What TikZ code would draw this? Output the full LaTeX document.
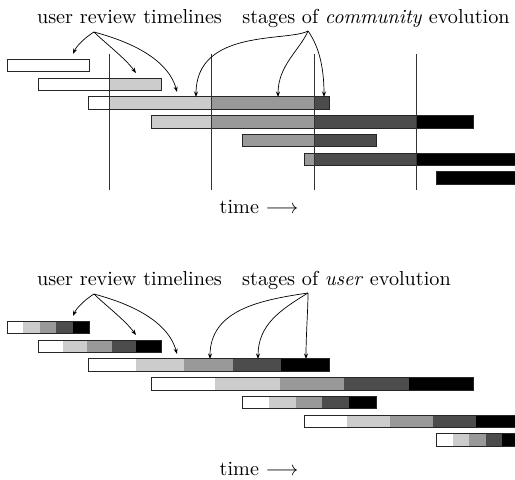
\documentclass[tikz,border=0pt]{standalone}
\usetikzlibrary{arrows.meta}
% stage shades, from first to last stage
\definecolor{stA}{gray}{1}
\definecolor{stB}{gray}{0.8}
\definecolor{stC}{gray}{0.6}
\definecolor{stD}{gray}{0.3}
\definecolor{stE}{gray}{0}
\begin{document}
\begin{tikzpicture}[x=1pt,y=-1pt,
  lbl/.style={scale=2.02, inner sep=0pt, anchor=base},
  ptr/.style={-{Stealth[length=5.5pt,width=4pt]}, line width=0.7pt},
  barline/.style={draw=black!85, line width=0.8pt},
  cut/.style={draw=black!80, line width=0.7pt}]
\useasboundingbox (0,0) rectangle (515,480);

% ---------- community evolution: stages fixed in time ----------
\foreach \a/\b/\r in {7/89/0, 38/161/1, 88/329/2, 151/473/3, 242/376/4, 304/519/5, 436/519/6} {
  \pgfmathsetmacro\yc{65.5+18.75*\r}
  \begin{scope}
    \clip (\a,\yc-6.25) rectangle (\b,\yc+6.25);
    \fill[stA] (0,\yc-7) rectangle (109,\yc+7);
    \fill[stB] (109,\yc-7) rectangle (211,\yc+7);
    \fill[stC] (211,\yc-7) rectangle (314,\yc+7);
    \fill[stD] (314,\yc-7) rectangle (416,\yc+7);
    \fill[stE] (416,\yc-7) rectangle (530,\yc+7);
  \end{scope}
  \draw[barline] (\a,\yc-6.25) rectangle (\b,\yc+6.25);
}
\foreach \x in {109,211,314,416}
  \draw[cut] (\x,54) -- (\x,190);

\node[lbl] (urtA) at (129.5,23) {user review timelines};
\node[lbl] (stgA) at (376,23) {stages of \emph{community} evolution};
\node[lbl] (timeA) at (259,213) {time $\longrightarrow$};

\coordinate (uA) at (94,32);
\coordinate (uA1) at (73,54);
\coordinate (uA2) at (136,73);
\coordinate (uA3) at (177,92);
\draw[ptr] (uA) .. controls (86,37) and (77,45) .. (uA1);
\draw[ptr] (uA) .. controls (104,42) and (125,58) .. (uA2);
\draw[ptr] (uA) .. controls (112,37) and (166,52) .. (uA3);

\coordinate (sA) at (308,31);
\coordinate (sA1) at (196,97);
\coordinate (sA2) at (278,97);
\coordinate (sA3) at (324,97);
\draw[ptr] (sA) .. controls (288,42) and (196,28) .. (sA1);
\draw[ptr] (sA) .. controls (300,50) and (278,65) .. (sA2);
\draw[ptr] (sA) .. controls (318,45) and (324,65) .. (sA3);

% ---------- user evolution: stages relative to each user ----------
\foreach \a/\b/\r in {7/89/0, 38/161/1, 88/329/2, 151/473/3, 242/376/4, 304/519/5, 436/519/6} {
  \pgfmathsetmacro\yc{327.5+18.75*\r}
  \pgfmathsetmacro\w{(\b-\a)/5}
  \foreach \k/\c in {0/stA,1/stB,2/stC,3/stD,4/stE}
    \fill[\c] (\a+\k*\w,\yc-6.25) rectangle (\a+\k*\w+\w,\yc+6.25);
  \draw[barline] (\a,\yc-6.25) rectangle (\b,\yc+6.25);
}

\node[lbl] (urtB) at (129.5,285) {user review timelines};
\node[lbl] (stgB) at (346.5,285) {stages of \emph{user} evolution};
\node[lbl] (timeB) at (259,475) {time $\longrightarrow$};

\coordinate (uB) at (94,294);
\coordinate (uB1) at (73,316);
\coordinate (uB2) at (136,335);
\coordinate (uB3) at (177,354);
\draw[ptr] (uB) .. controls (86,299) and (77,307) .. (uB1);
\draw[ptr] (uB) .. controls (104,304) and (125,320) .. (uB2);
\draw[ptr] (uB) .. controls (112,299) and (166,314) .. (uB3);

\coordinate (sB) at (308,293);
\coordinate (sB1) at (210,359);
\coordinate (sB2) at (258,359);
\coordinate (sB3) at (306,359);
\draw[ptr] (sB) .. controls (260,300) and (210,310) .. (sB1);
\draw[ptr] (sB) .. controls (280,310) and (258,325) .. (sB2);
\draw[ptr] (sB) .. controls (308,310) and (306,335) .. (sB3);
\end{tikzpicture}
\end{document}
